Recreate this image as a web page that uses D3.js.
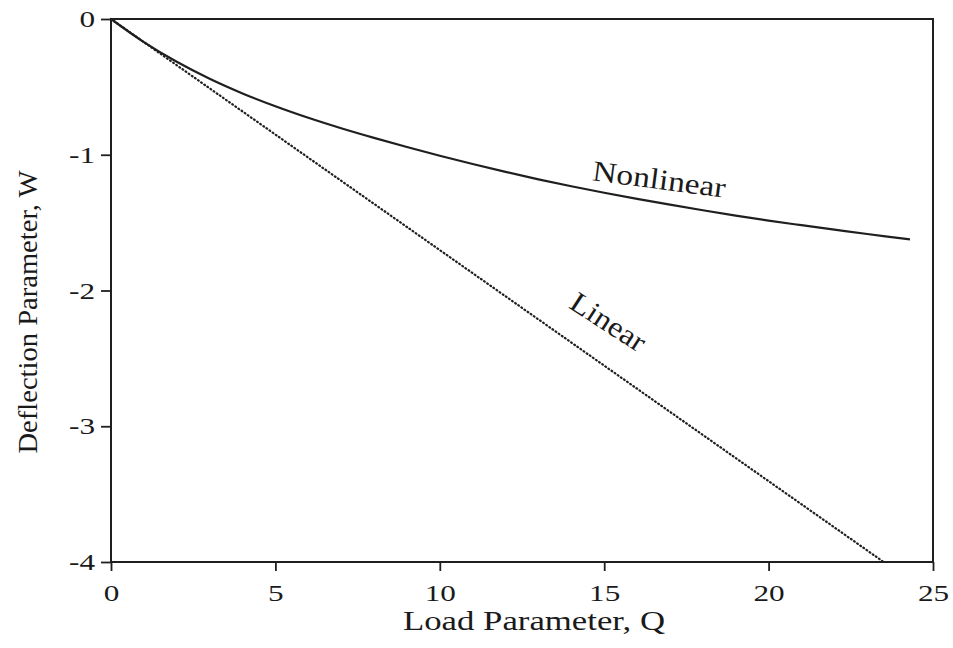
<!DOCTYPE html>
<html>
<head>
<meta charset="utf-8">
<script src="https://cdn.jsdelivr.net/npm/d3@7"></script>
<style>
  html, body { margin: 0; padding: 0; background: #fff; }
  svg { display: block; }
  text { font-family: "Liberation Serif", "DejaVu Serif", serif; fill: #1a1a1a; }
</style>
</head>
<body>
<svg id="chart" width="953" height="648"></svg>
<script>
// Load parameter Q and deflection parameter W for the two plate solutions
const nonlinearQ = [0, 1, 2, 3, 4, 5, 6, 7, 8, 9, 10, 11, 12, 13, 14, 15, 16, 17, 18, 19, 20, 21, 22, 23, 24.3];
const nonlinearW = [0, -0.17, -0.315, -0.44, -0.548, -0.643, -0.728, -0.805, -0.876, -0.943, -1.007, -1.068, -1.126, -1.181, -1.232, -1.28, -1.325, -1.368, -1.409, -1.448, -1.485, -1.519, -1.552, -1.584, -1.624];
const linearQ = [0, 23.5];
const linearW = [0, -4];

const xTicks = [0, 5, 10, 15, 20, 25];
const yTicks = [0, -1, -2, -3, -4];

const xTitle = "Load Parameter, Q";
const yTitle = "Deflection Parameter, W";

const serif = '"Liberation Serif", "DejaVu Serif", serif';
const svg = d3.select("#chart");
const ink = "#1f1f1f";

const x = d3.scaleLinear().domain([0, 25]).range([111, 933]);
const y = d3.scaleLinear().domain([-4, 0]).range([562, 19]);

// Axes with outward ticks
const xAxis = svg.append("g")
  .attr("transform", `translate(0,${y(-4)})`)
  .call(d3.axisBottom(x).tickValues(xTicks).tickSize(9).tickPadding(13).tickFormat(d3.format("d")));
const yAxis = svg.append("g")
  .attr("transform", `translate(${x(0)},0)`)
  .call(d3.axisLeft(y).tickValues(yTicks).tickSize(10).tickPadding(6).tickFormat(d => d === 0 ? "0" : "-" + Math.abs(d)));

[xAxis, yAxis].forEach(g => {
  g.attr("font-family", serif).attr("font-size", 24);
  g.select(".domain").remove();
  g.selectAll(".tick line").attr("stroke", ink).attr("stroke-width", 1.8);
  g.selectAll(".tick text")
    .attr("fill", ink)
    .style("font-family", serif)
    .style("font-size", "24px")
    // wide, round old-style figures
    .each(function () {
      const w = this.getComputedTextLength();
      d3.select(this).attr("textLength", w * 1.3).attr("lengthAdjust", "spacingAndGlyphs");
    });
});

// Plot frame
svg.append("rect")
  .attr("x", x(0)).attr("y", y(0))
  .attr("width", x(25) - x(0)).attr("height", y(-4) - y(0))
  .attr("fill", "none").attr("stroke", ink).attr("stroke-width", 2);

// Linear solution: dotted straight line
svg.append("path")
  .datum(linearQ.map((q, i) => [q, linearW[i]]))
  .attr("d", d3.line().x(d => x(d[0])).y(d => y(d[1])))
  .attr("fill", "none").attr("stroke", ink)
  .attr("stroke-width", 2.2).attr("stroke-linecap", "round")
  .attr("stroke-dasharray", "0.8,3");

// Nonlinear solution: solid smooth curve
svg.append("path")
  .datum(nonlinearQ.map((q, i) => [q, nonlinearW[i]]))
  .attr("d", d3.line().x(d => x(d[0])).y(d => y(d[1])).curve(d3.curveCatmullRom))
  .attr("fill", "none").attr("stroke", ink)
  .attr("stroke-width", 2.2);

// Curve labels
svg.append("text")
  .attr("transform", "translate(658,189) rotate(7.5)")
  .attr("text-anchor", "middle")
  .attr("textLength", 134).attr("lengthAdjust", "spacingAndGlyphs")
  .style("font-size", "29px")
  .text("Nonlinear");

svg.append("text")
  .attr("transform", "translate(603,330) rotate(33)")
  .attr("text-anchor", "middle")
  .attr("textLength", 84).attr("lengthAdjust", "spacingAndGlyphs")
  .style("font-size", "29px")
  .text("Linear");

// Axis titles
svg.append("text")
  .attr("x", 534).attr("y", 630)
  .attr("text-anchor", "middle")
  .attr("textLength", 262).attr("lengthAdjust", "spacingAndGlyphs")
  .style("font-size", "27px")
  .text(xTitle);

svg.append("text")
  .attr("transform", "translate(37,312) rotate(-90)")
  .attr("text-anchor", "middle")
  .attr("textLength", 283).attr("lengthAdjust", "spacingAndGlyphs")
  .style("font-size", "27px")
  .text(yTitle);
</script>
</body>
</html>
